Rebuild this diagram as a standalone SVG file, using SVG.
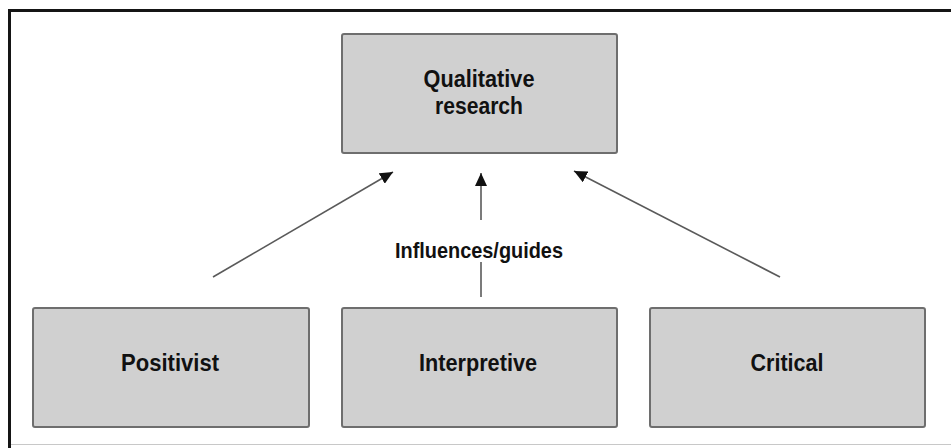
<svg xmlns="http://www.w3.org/2000/svg" width="951" height="448" viewBox="0 0 951 448">
  <style>
    .box { fill: #d0d0d0; stroke: #6e6e6e; stroke-width: 2; }
    .lbl { font-family: "Liberation Sans", Arial, sans-serif; font-weight: bold; font-size: 23px; fill: #111; text-anchor: middle; }
    .edge { stroke: #5a5a5a; stroke-width: 1.6; fill: none; }
    .note { font-family: "Liberation Sans", Arial, sans-serif; font-weight: bold; font-size: 22px; fill: #111; text-anchor: middle; }
  </style>
  <defs>
    <marker id="arrow" markerUnits="userSpaceOnUse" markerWidth="14" markerHeight="12" refX="13" refY="6" orient="auto">
      <path d="M0,0 L13,6 L0,12 Z" fill="#111"/>
    </marker>
  </defs>

  <rect x="0" y="0" width="951" height="448" fill="#ffffff"/>

  <!-- outer frame -->
  <path d="M951,10.5 H9.5 V448" fill="none" stroke="#151515" stroke-width="3"/>
  <path d="M11,444.5 H951" fill="none" stroke="#c8c8c8" stroke-width="1"/>

  <!-- connectors -->
  <g id="connectors">
    <line class="edge" x1="213" y1="277" x2="393" y2="172" marker-end="url(#arrow)"/>
    <line class="edge" x1="481" y1="220" x2="481" y2="173" marker-end="url(#arrow)"/>
    <line class="edge" x1="481" y1="297" x2="481" y2="262"/>
    <line class="edge" x1="780" y1="277" x2="574" y2="171" marker-end="url(#arrow)"/>
    <text class="note" x="479" y="258" textLength="168" lengthAdjust="spacingAndGlyphs">Influences/guides</text>
  </g>

  <g id="node-qualitative">
    <rect class="box" x="342" y="34" width="275" height="119" rx="2"/>
    <text class="lbl" x="479" y="87" textLength="111" lengthAdjust="spacingAndGlyphs">Qualitative</text>
    <text class="lbl" x="479" y="114" textLength="88" lengthAdjust="spacingAndGlyphs">research</text>
  </g>

  <g id="node-positivist">
    <rect class="box" x="33" y="308" width="276" height="119" rx="2"/>
    <text class="lbl" x="170" y="371" textLength="98" lengthAdjust="spacingAndGlyphs">Positivist</text>
  </g>

  <g id="node-interpretive">
    <rect class="box" x="342" y="308" width="275" height="119" rx="2"/>
    <text class="lbl" x="478" y="371" textLength="118" lengthAdjust="spacingAndGlyphs">Interpretive</text>
  </g>

  <g id="node-critical">
    <rect class="box" x="650" y="308" width="275" height="119" rx="2"/>
    <text class="lbl" x="787" y="371" textLength="73" lengthAdjust="spacingAndGlyphs">Critical</text>
  </g>
</svg>
